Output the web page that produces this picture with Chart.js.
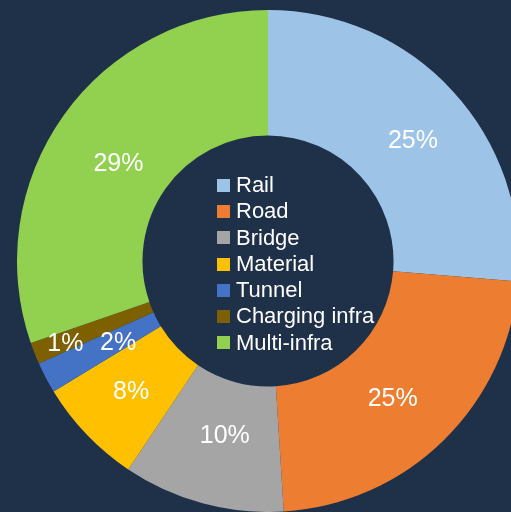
<!DOCTYPE html>
<html>
<head>
<meta charset="utf-8">
<script src="https://cdn.jsdelivr.net/npm/chart.js@4.4.0/dist/chart.umd.min.js"></script>
<style>
    html, body {
        margin: 0;
        padding: 0;
        width: 511px;
        height: 512px;
        overflow: hidden;
        background: #1f3049;
        font-family: "Liberation Sans", Arial, sans-serif;
    }
    #wrap {
        position: absolute;
        left: 17px;
        top: 10px;
        width: 502px;
        height: 502px;
    }
    #legend {
        position: absolute;
        left: 217px;
        top: 172px;
        margin: 0;
        padding: 0;
        list-style: none;
        color: #ffffff;
        font-size: 22px;
        line-height: 26.3px;
    }
    #legend li {
        display: flex;
        align-items: center;
        white-space: nowrap;
    }
    #legend .box {
        display: inline-block;
        width: 13px;
        height: 13px;
        margin-right: 6px;
    }
</style>
</head>
<body>
<div id="wrap"><canvas id="donut" width="502" height="502"></canvas></div>
<ul id="legend"></ul>

<script>
// -----------------------------
// Data
// -----------------------------
const categories = ["Rail", "Road", "Bridge", "Material", "Tunnel", "Charging infra", "Multi-infra"];
// slice shares as measured from the ring
const shares = [26.3, 22.7, 10.4, 6.9, 2.0, 1.4, 30.3];
// percentages as printed on the slices
const pctLabels = ["25%", "25%", "10%", "8%", "2%", "1%", "29%"];
const colors = ["#9dc3e6", "#ed7d31", "#a5a5a5", "#ffc000", "#4472c4", "#7f6000", "#92d050"];

// -----------------------------
// Slice labels (drawn on the ring)
// -----------------------------
// per-slice nudge: da = extra angle in degrees, f = place in ring (0 inner edge, 1 outer edge)
const labelNudge = {
    0: { da: 3, f: 0.5 },
    1: { da: 2.3, f: 0.48 },
    2: { da: -1.3, f: 0.44 },
    3: { da: 0, f: 0.51 },
    4: { da: -0.9, f: 0.36 },
    5: { da: -0.7, f: 0.745 },
    6: { da: -2.5, f: 0.42 }
};

const sliceLabels = {
    id: "sliceLabels",
    afterDatasetsDraw(chart) {
        const { ctx } = chart;
        const meta = chart.getDatasetMeta(0);
        ctx.save();
        ctx.font = "25px 'Liberation Sans', Arial, sans-serif";
        ctx.fillStyle = "#ffffff";
        ctx.textAlign = "center";
        ctx.textBaseline = "middle";
        meta.data.forEach((arc, i) => {
            const p = arc.getProps(["x", "y", "startAngle", "endAngle", "innerRadius", "outerRadius"], true);
            const n = labelNudge[i] || { da: 0, f: 0.5 };
            const mid = (p.startAngle + p.endAngle) / 2 + n.da * Math.PI / 180;
            const r = p.innerRadius + (p.outerRadius - p.innerRadius) * n.f;
            ctx.fillText(pctLabels[i], p.x + Math.cos(mid) * r, p.y + Math.sin(mid) * r);
        });
        ctx.restore();
    }
};

// -----------------------------
// Chart
// -----------------------------
const chart = new Chart(document.getElementById("donut").getContext("2d"), {
    type: "doughnut",
    data: {
        labels: categories,
        datasets: [{
            data: shares,
            backgroundColor: colors,
            borderWidth: 0
        }]
    },
    options: {
        responsive: false,
        animation: false,
        cutout: "50%",
        layout: { padding: 0 },
        plugins: {
            legend: { display: false },
            tooltip: { enabled: false }
        }
    },
    plugins: [sliceLabels]
});

// -----------------------------
// Legend in the hole
// -----------------------------
const legendEl = document.getElementById("legend");
categories.forEach((name, i) => {
    const li = document.createElement("li");
    li.innerHTML = `<span class="box" style="background:${colors[i]}"></span>${name}`;
    legendEl.appendChild(li);
});
</script>
</body>
</html>
